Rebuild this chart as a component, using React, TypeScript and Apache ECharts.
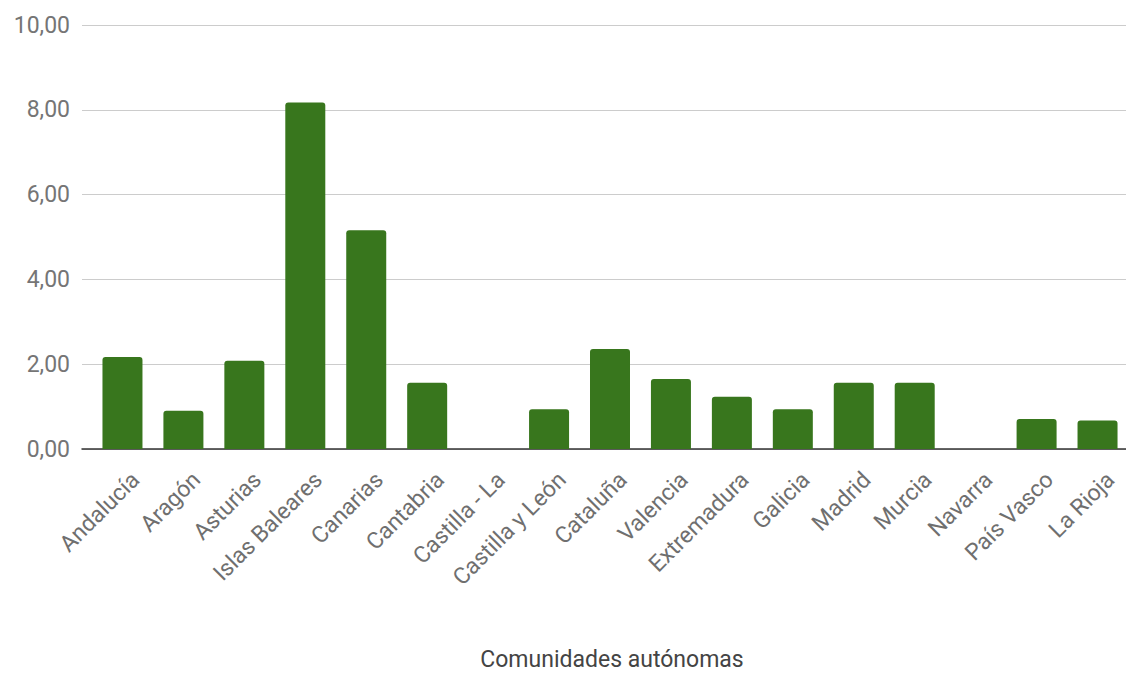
import React, { useEffect, useRef } from "react";
import * as echarts from "echarts";

const categories = [
  "Andalucía", "Aragón", "Asturias", "Islas Baleares", "Canarias", "Cantabria",
  "Castilla - La", "Castilla y León", "Cataluña", "Valencia", "Extremadura",
  "Galicia", "Madrid", "Murcia", "Navarra", "País Vasco", "La Rioja",
];
const values = [2.17, 0.9, 2.08, 8.17, 5.16, 1.56, 0, 0.94, 2.36, 1.65, 1.23, 0.94, 1.56, 1.56, 0, 0.71, 0.67];
const xAxisTitle = "Comunidades autónomas";
const yMin = 0;
const yMax = 10;
const yStep = 2;

const FONT = "Roboto, 'Noto Sans', sans-serif";

export default function App() {
  const ref = useRef<HTMLDivElement>(null);
  useEffect(() => {
    if (!ref.current) return;
    const chart = echarts.init(ref.current, undefined, { renderer: "svg" });
    const fmt = (v: number) => v.toFixed(2).replace(".", ",");
    const hiddenValueAxis = (gridIndex: number) => ({
      type: "value",
      gridIndex,
      min: yMin,
      max: yMax,
      interval: yStep,
      axisLine: { show: false },
      axisTick: { show: false },
      axisLabel: { show: false },
      splitLine: { show: false },
    });
    chart.setOption({
      animation: false,
      backgroundColor: "#ffffff",
      textStyle: { fontFamily: FONT },
      grid: [
        { left: 82, right: 0, top: 25, bottom: 224, containLabel: false, outerBoundsMode: "none" },
        { left: 92, right: -2, top: 25, bottom: 224, containLabel: false, outerBoundsMode: "none" },
        { left: 105, right: -15, top: 25, bottom: 224, containLabel: false, outerBoundsMode: "none" },
      ],
      xAxis: [
        {
          type: "category",
          gridIndex: 0,
          data: categories,
          axisLine: { show: true, lineStyle: { color: "#333333", width: 1.5 } },
          axisTick: { show: false },
          axisLabel: { show: false },
          splitLine: { show: false },
          name: xAxisTitle,
          nameLocation: "middle",
          nameGap: 199,
          nameTextStyle: { color: "#444444", fontSize: 23, fontFamily: FONT, padding: [0, 0, 0, 16] },
        },
        {
          type: "category",
          gridIndex: 1,
          data: categories,
          axisLine: { show: false },
          axisTick: { show: false },
          axisLabel: { show: false },
        },
        {
          type: "category",
          gridIndex: 2,
          data: categories,
          axisLine: { show: false },
          axisTick: { show: false },
          axisLabel: {
            rotate: 45,
            interval: 0,
            color: "#6f6f6f",
            fontSize: 23,
            fontFamily: FONT,
            margin: 27,
          },
        },
      ],
      yAxis: [
        {
          type: "value",
          gridIndex: 0,
          min: yMin,
          max: yMax,
          interval: yStep,
          axisLine: { show: false },
          axisTick: { show: false },
          axisLabel: {
            formatter: fmt,
            color: "#757575",
            fontSize: 23,
            fontFamily: FONT,
            margin: 12,
          },
          splitLine: { lineStyle: { color: "#cccccc", width: 1 } },
        },
        hiddenValueAxis(1),
        hiddenValueAxis(2),
      ],
      series: [
        {
          type: "bar",
          xAxisIndex: 1,
          yAxisIndex: 1,
          data: values,
          barWidth: 40,
          itemStyle: { color: "#38761d", borderRadius: [3, 3, 0, 0] },
          z: 1,
        },
      ],
    });
    return () => chart.dispose();
  }, []);
  return (
    <div
      ref={ref}
      style={{ position: "fixed", left: 0, top: 0, width: 1126, height: 673, background: "#fff" }}
    />
  );
}
